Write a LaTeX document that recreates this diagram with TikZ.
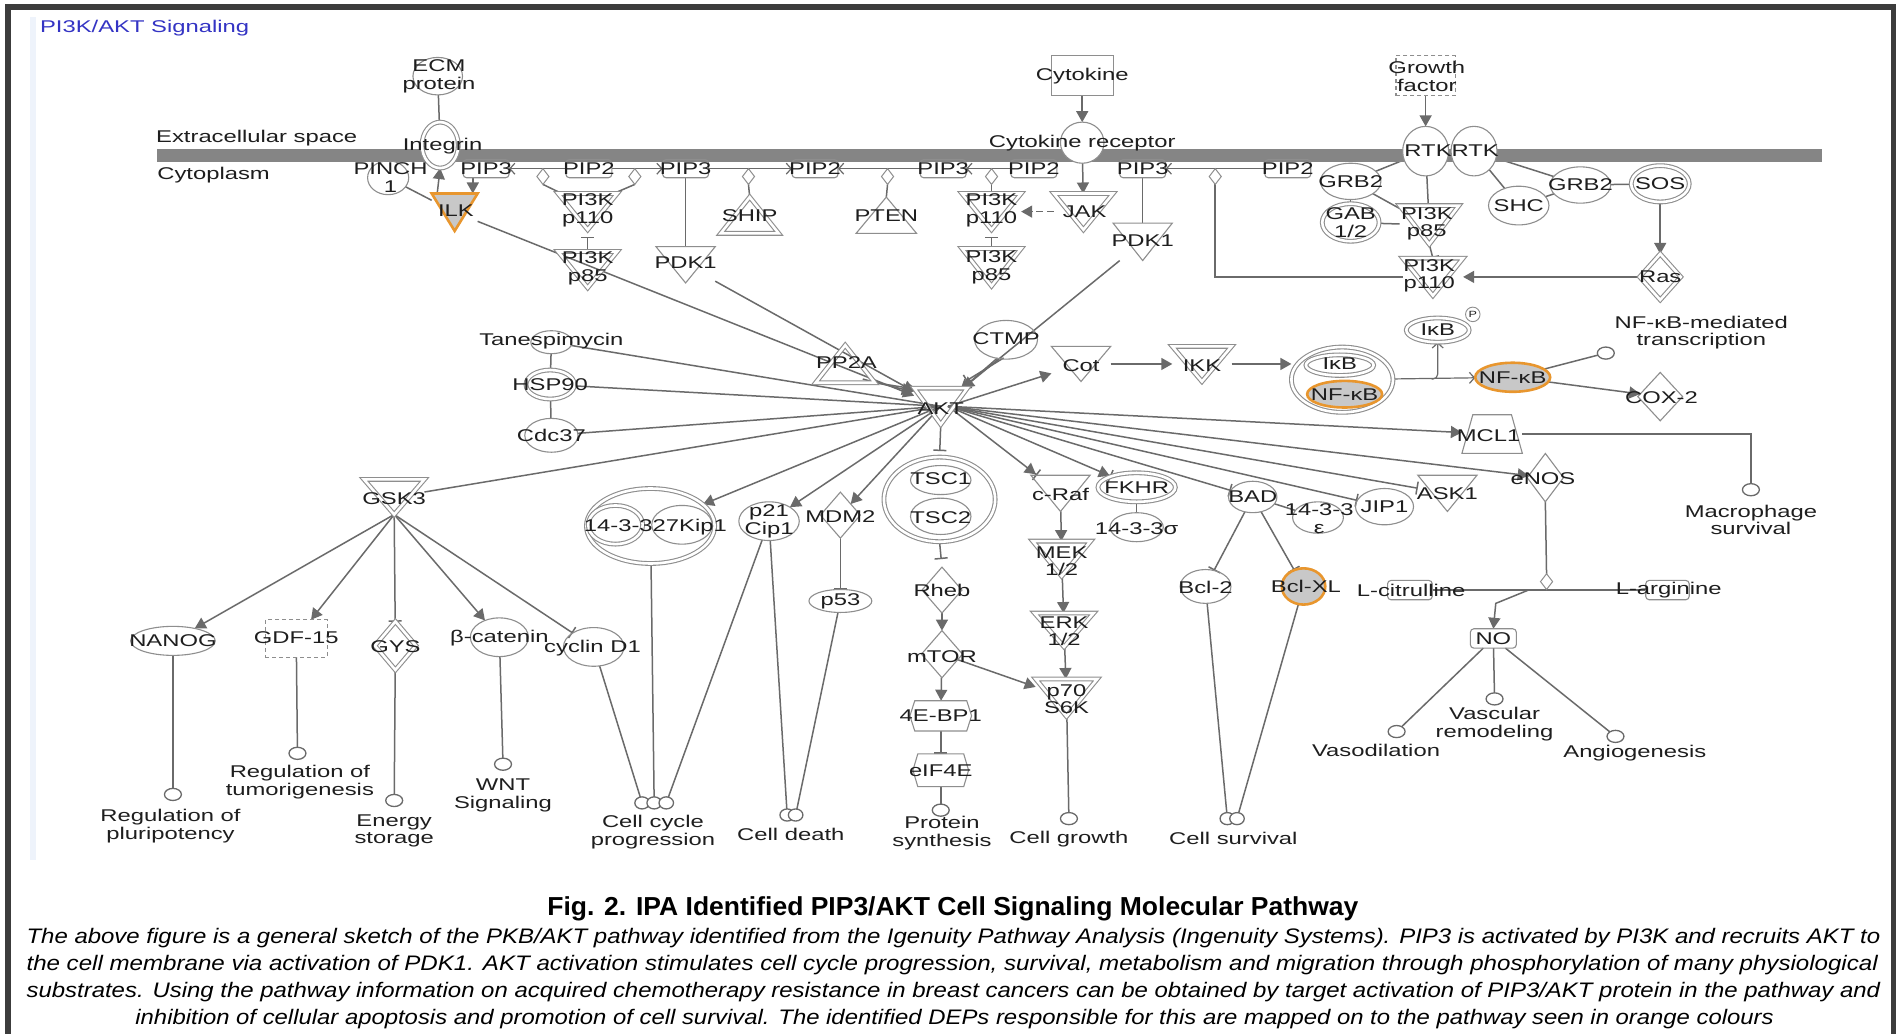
\documentclass[tikz,border=0pt]{standalone}
\usepackage{fontspec}
\usepackage{graphicx}
\setmainfont{Liberation Sans}
\newfontfamily\lf[FakeStretch=1.4]{Liberation Sans}
\usetikzlibrary{arrows.meta,calc,shapes.geometric}
\definecolor{lc}{HTML}{6A6A6A}
\definecolor{nc}{HTML}{8E8E8E}
\definecolor{txt}{HTML}{1E1E1E}
\definecolor{org}{HTML}{E8962E}
\definecolor{hfill}{HTML}{C8C8C8}
\definecolor{frm}{HTML}{3C3C3C}
\definecolor{barc}{HTML}{858585}
\definecolor{ttl}{HTML}{3434C4}
\definecolor{pane}{HTML}{EEF3FB}
\pgfdeclarelayer{base}
\pgfdeclarelayer{bg}
\pgfsetlayers{base,bg,main}
\newcommand\lfont{\lf\fontsize{17}{17.5}\selectfont}
\tikzset{
  lbl/.style={font=\lfont, align=center, inner sep=0pt, text=txt},
  sz/.style 2 args={minimum width=#1*1.2092pt, minimum height=#2*1.2092pt},
  shp/.style={draw=nc, line width=1.1pt, inner sep=0pt, outer sep=0pt, line join=miter},
  ell/.style={shp, ellipse},
  box/.style={shp, rectangle},
  rbox/.style={shp, rectangle, rounded corners=3.5pt},
  dbox/.style={shp, rectangle, dash pattern=on 4pt off 3pt},
  dia/.style={shp, diamond},
  hid/.style={rectangle, inner sep=0pt, outer sep=0pt},
  dbl/.style={double=white, double distance=2.6pt},
  wf/.style={fill=white},
  hl/.style={draw=org, line width=2.6pt, fill=hfill},
  fn/.style={shp, ellipse, sz={14}{10}, line width=1.3pt, draw=lc, fill=white},
  ln/.style={draw=lc, line width=1.5pt},
  act/.style={ln, -{Triangle[length=11pt,width=12pt]}},
  inh/.style={ln, -{Bar[width=13pt,line width=1.5pt]}},
  actinh/.style={ln, -{Triangle[length=11pt,width=12pt] Bar[width=13pt,line width=1.5pt]}},
  opn/.style={ln, line width=1.2pt, -{Straight Barb[length=5pt,width=11pt]}},
}
\newcommand\trid[4][]{\node[hid,sz=#4] (#2) at (#3) {};\path[shp,#1] (#2.north west) -- (#2.north east) -- (#2.south) -- cycle;}
\newcommand\triu[4][]{\node[hid,sz=#4] (#2) at (#3) {};\path[shp,#1] (#2.south west) -- (#2.south east) -- (#2.north) -- cycle;}
\newcommand\hexa[3]{\node[hid,sz=#3] (#1) at (#2) {};\path[shp] ($(#1.north west)+(4,0)$) -- ($(#1.north east)+(-4,0)$) -- (#1.east) -- ($(#1.south east)+(-4,0)$) -- ($(#1.south west)+(4,0)$) -- (#1.west) -- cycle;}
\begin{document}
\begin{tikzpicture}[x=1.2092pt, y=-1.2092pt]
\useasboundingbox (0,0) rectangle (1568,855);
\begin{pgfonlayer}{base}
\fill[white] (0,0) rectangle (1568,855);
\end{pgfonlayer}
% frame
\fill[frm] (4.5,3) rectangle (1568,8);
\fill[frm] (4.5,3) rectangle (9.5,855);
\fill[frm] (1563.5,3) rectangle (1568,855);
\fill[pane] (25,14) rectangle (30,711);
% title
\node[anchor=base west, inner sep=0pt, font=\lf\fontsize{17}{18}\selectfont, text=ttl] (title) at (33,26.5) {PI3K/AKT Signaling};
% membrane
\fill[barc] (130,123) rectangle (1507,134);
\node[lbl, anchor=base west] (ecs) at (129,118) {Extracellular space};
\node[lbl, anchor=base west] (cyto) at (130,148.5) {Cytoplasm};

% ---------- shapes ----------
\node[ell, sz={41}{31}] (ecm) at (362,63) {};
\node[ell, dbl, wf, sz={30}{38}] (integ) at (364,120) {};
\node[ell, sz={34}{28}] (pinch) at (321,147) {};
\trid[hl]{ilk}{376,175.5}{{38}{31}}
\node[rbox, sz={38}{15}] (pip3a) at (402,139.5) {};
\node[rbox, sz={38}{15}] (pip2a) at (487,139.5) {};
\node[rbox, sz={38}{15}] (pip3b) at (567,139.5) {};
\node[rbox, sz={38}{15}] (pip2b) at (674,139.5) {};
\node[rbox, sz={38}{15}] (pip3c) at (780,139.5) {};
\node[rbox, sz={38}{15}] (pip2c) at (855,139.5) {};
\node[rbox, sz={38}{15}] (pip3d) at (945,139.5) {};
\node[rbox, sz={38}{15}] (pip2d) at (1065,139.5) {};
\node[dia, wf, sz={10}{13}, line width=1pt] (cd1) at (449,146) {};
\node[dia, wf, sz={10}{13}, line width=1pt] (cd2) at (525,146) {};
\node[dia, wf, sz={10}{13}, line width=1pt] (cd3) at (619,146) {};
\node[dia, wf, sz={10}{13}, line width=1pt] (cd4) at (734,146) {};
\node[dia, wf, sz={10}{13}, line width=1pt] (cd5) at (820,146) {};
\node[dia, wf, sz={10}{13}, line width=1pt] (cd6) at (1005,146) {};
\trid[dbl]{p110a}{486,175}{{49}{30}}
\trid[dbl]{p85a}{486,223}{{49}{30}}
\triu[dbl]{ship}{620,178}{{48}{30}}
\triu{pten}{733,178}{{50}{30}}
\trid[dbl]{p110b}{820,175}{{49}{30}}
\trid[dbl]{jak}{896,175}{{49}{30}}
\trid[dbl]{p85b}{820,221}{{49}{31}}
\trid{pdk1a}{567,219}{{49}{30}}
\trid{pdk1b}{945,200}{{49}{31}}
\node[box, sz={51}{33}] (cytk) at (895,62.5) {};
\node[ell, wf, sz={36}{34}] (cytr) at (895,118) {};
\node[dbox, sz={49}{33}] (gf) at (1179,62.5) {};
\node[ell, wf, sz={38}{41}] (rtk1) at (1179,125) {};
\node[ell, wf, sz={38}{41}] (rtk2) at (1219,125) {};
\node[ell, sz={50}{30}] (grb2a) at (1117,150) {};
\node[ell, dbl, sz={47}{31}] (gab) at (1117,184) {};
\trid[dbl]{p85c}{1182,186}{{49}{32}}
\trid[dbl]{p110c}{1185,229}{{50}{31}}
\node[ell, sz={50}{32}] (shc) at (1256,170) {};
\node[ell, sz={50}{30}] (grb2b) at (1307,153) {};
\node[ell, dbl, sz={48}{30}] (sos) at (1373,152) {};
\node[dia, dbl, sz={34}{38}] (ras) at (1373,229) {};

\node[ell, sz={34}{19}] (tane) at (456,283) {};
\node[ell, dbl, sz={40}{24}] (hsp) at (455,318) {};
\node[ell, sz={44}{28}] (cdc) at (456,360) {};
\triu[dbl]{pp2a}{699,301}{{49}{31}}
\node[ell, sz={52}{32}] (ctmp) at (832,281) {};
\trid[dbl]{akt}{778,336}{{44}{30}}
\trid{cot}{894,301}{{49}{29}}
\trid[dbl]{ikk}{994,301}{{49}{29}}
\node[ell, dbl, sz={84}{54}] (cplx) at (1110,314) {};
\node[ell, dbl, sz={56}{17}] (ikb) at (1108,302) {};
\node[ell, hl, sz={62}{22}] (nfkba) at (1112,326) {};
\node[ell, dbl, sz={52}{20}] (ikbp) at (1189,273) {};
\node[ell, sz={12}{12}, line width=0.9pt] (pc) at (1218,260) {};
\node[ell, hl, sz={62}{24}] (nfkbb) at (1251,312) {};
\node[fn] (ftr) at (1328,292) {};
\node[dia, sz={37}{40}] (cox) at (1373,328) {};
\node[hid, sz={50}{32}] (mcl) at (1234,359) {};
\path[shp] (mcl.south west) -- (mcl.south east) -- ($(mcl.north east)+(-9,0)$) -- ($(mcl.north west)+(9,0)$) -- cycle;
\node[fn] (fmac) at (1448,405) {};
\node[dia, sz={30}{40}] (enos) at (1278,395) {};
\trid{ask}{1197,408}{{49}{30}}
\node[ell, sz={48}{30}] (jip) at (1145,419) {};
\node[ell, sz={42}{26}] (eps) at (1090,428) {};
\node[ell, sz={40}{26}] (bad) at (1036,411) {};
\node[ell, sz={42}{28}] (bcltwo) at (997,485) {};
\node[ell, hl, sz={36}{30}] (bclxl) at (1078,485) {};
\node[ell, dbl, sz={64}{24}] (fkhr) at (940,403) {};
\node[ell, sz={44}{24}] (sig) at (940,436) {};
\trid{craf}{877,408}{{49}{30}}
\trid[dbl]{mek}{878,462}{{48}{29}}
\trid[dbl]{erk}{880,521}{{49}{28}}
\trid[dbl]{pse}{882,577}{{51}{31}}
\node[ell, dbl, sz={92}{70}] (tsc) at (777,413) {};
\node[ell, sz={50}{24}] (tscone) at (778,397) {};
\node[ell, sz={50}{30}] (tsctwo) at (778,427) {};
\node[dia, sz={33}{38}] (rheb) at (779,488) {};
\node[dia, sz={34}{39}] (mtor) at (779,541) {};
\hexa{bpone}{778,592}{{51}{25}}
\hexa{eif}{778,637}{{46}{27}}
\node[fn] (fprot) at (778,670) {};
\node[fn] (fgrow) at (884,677) {};
\node[ell, dbl, sz={106}{62}] (ckip) at (538,435) {};
\node[ell, dbl, sz={45}{32}] (cfour) at (509,434) {};
\node[ell, sz={50}{32}] (ckp) at (564,434) {};
\node[ell, sz={50}{32}] (ptw) at (636,431) {};
\node[dia, sz={33}{38}] (mdm) at (695,426) {};
\node[ell, sz={52}{19}] (pft) at (695,497) {};
\trid[dbl]{gsk}{326,411}{{50}{29}}
\node[ell, sz={70}{24}] (nanog) at (143,530) {};
\node[dbox, sz={51}{31}] (gdf) at (245,528) {};
\node[dia, dbl, sz={34}{40}] (gys) at (327,534) {};
\node[ell, sz={48}{32}] (bcat) at (413,527) {};
\node[ell, sz={50}{32}] (cycd) at (491,535) {};
\node[fn] (fplu) at (143,657) {};
\node[fn] (ftum) at (246,623) {};
\node[fn] (fen) at (326,662) {};
\node[fn] (fwnt) at (416,632) {};
\node[fn, sz={12}{10}] (fcca) at (531,664) {};
\node[fn, sz={12}{10}] (fccb) at (541,664) {};
\node[fn, sz={12}{10}] (fccc) at (551,664) {};
\node[fn, sz={12}{10}] (fcda) at (651,674) {};
\node[fn, sz={12}{10}] (fcdb) at (658,674) {};
\node[fn, sz={12}{10}] (fcsa) at (1015,677) {};
\node[fn, sz={12}{10}] (fcsb) at (1023,677) {};
\node[rbox, sz={37}{16}] (lcit) at (1166,488) {};
\node[rbox, sz={36}{16}] (larg) at (1379,488) {};
\node[dia, wf, sz={10}{13}, line width=1pt] (cdn) at (1279,481) {};
\node[rbox, sz={38}{16}] (no) at (1235,528) {};
\node[fn] (fvaso) at (1155,605) {};
\node[fn] (fvasc) at (1236,578) {};
\node[fn] (fang) at (1336,609) {};
\coordinate (brk) at (1184,313.5);
\coordinate (noa) at (1264,488);
\coordinate (nob) at (1237,499);
\coordinate (ak) at (784,336);

% ---------- connectors ----------
\begin{pgfonlayer}{bg}
\draw[ln] (ecm) -- (integ);
\draw[ln] (pinch) -- (ilk);
\draw[act] ($(ilk.north west)!0.12!(ilk.north east)$) -- (integ.south);
\draw[act] ($(pip3a.south)+(-11,0)$) -- ($(ilk.north)+(15,0)$);
\draw[act] (ilk) -- (akt);
\draw[opn] (pip2a) -- (pip3a);
\draw[opn] (pip2a) -- (pip3b);
\draw[opn] (pip3b) -- (pip2b);
\draw[opn] (pip3c) -- (pip2b);
\draw[opn] (pip2c) -- (pip3c);
\draw[opn] (pip2d) -- (pip3d);
\draw[ln] (cd1.south) -- ($(p110a.north west)+(3,0)$);
\draw[ln] (cd2.south) -- ($(p110a.north east)+(-3,0)$);
\draw[ln] (cd3.south) -- (ship.north);
\draw[ln] (cd4.south) -- (pten.north);
\draw[ln] (cd5.south) -- (p110b.north);
\draw[ln] (cd6.south) |- (p110c.west);
\draw[inh, shorten >=7pt] (p85a.north) -- (p110a.south);
\draw[inh, shorten >=7pt] (p85b.north) -- (p110b.south);
\draw[inh] (p85c.south) -- (p110c.north);
\draw[ln] (pip3b.south) -- (pdk1a.north);
\draw[ln] (pip3d.south) -- (pdk1b.north);
\draw[act] (pdk1a) -- (akt);
\draw[act] (pdk1b) -- (akt);
\draw[act] ($(ctmp.south)+(-7,-1)$) -- ($(akt.north east)+(-6,2)$);
\draw[inh] ($(ctmp.south)+(-2,-1)$) -- ($(akt.north east)+(-1,-6)$);
\draw[act] (cytk) -- (cytr);
\draw[act] (cytr) -- (jak);
\draw[act, dash pattern=on 7pt off 4pt] (jak) -- (p110b);
\draw[act] (gf) -- (rtk1);
\draw[ln] (rtk1) -- (grb2a);
\draw[ln] (rtk1) -- (p85c);
\draw[ln] (grb2a) -- (gab);
\draw[ln] (grb2a) -- (p85c);
\draw[ln] (gab) -- (p85c);
\draw[ln] (rtk2) -- (shc);
\draw[ln] (rtk2) -- (grb2b);
\draw[ln] (shc) -- (grb2b);
\draw[ln] (grb2b) -- (sos);
\draw[act] (sos) -- (ras);
\draw[act] (ras) -- (p110c);
\draw[ln] (tane) -- (hsp);
\draw[ln] (hsp) -- (cdc);
\draw[ln] (tane) -- (akt.center);
\draw[ln] (hsp) -- (akt.center);
\draw[ln] (cdc) -- (akt.center);
\draw[act] ($(pp2a.south east)+(-10,-3)$) -- ($(akt.north west)+(-1,3)$);
\draw[act] ($(pp2a.south east)+(-6,-1)$) -- ($(akt.north west)+(2,1)$);
\draw[act] (ak) -- (cot);
\draw[act] (cot) -- (ikk);
\draw[act] (ikk) -- (ikk -| cplx.west);
\draw[opn] (cplx) -- (nfkbb);
\draw[opn, rounded corners=5pt] (brk) -| (ikbp.south);
\draw[ln] (nfkbb) -- (ftr);
\draw[act] (nfkbb) -- (cox);
\draw[act] (ak) -- (mcl);
\draw[ln] (mcl.east) -| (fmac.north);
\draw[act] (ak) -- (enos);
\draw[ln] (enos.south) -- (cdn.north);
\draw[ln] (larg.west) -- (lcit.east);
\draw[act] (noa) -- (nob) -- (no.north);
\draw[ln] (no) -- (fvaso);
\draw[ln] (no) -- (fvasc);
\draw[ln] (no) -- (fang);
\draw[inh] (ak) -- (ask);
\draw[inh] (ak) -- (jip);
\draw[inh] (ak) -- (bad);
\draw[ln] (bad) -- (eps);
\draw[inh] (bad) -- (bcltwo);
\draw[inh] (bad) -- (bclxl);
\draw[actinh] (ak) -- (craf);
\draw[actinh] (ak) -- (fkhr);
\draw[ln] (fkhr) -- (sig);
\draw[act] (craf) -- (mek);
\draw[act] (mek) -- (erk);
\draw[act] (erk) -- (pse);
\draw[act] (mtor) -- (pse);
\draw[inh, shorten >=6pt] (akt.south) -- (tsc.north);
\draw[inh, shorten >=8pt] (tsc.south) -- (rheb.north);
\draw[act] (rheb) -- (mtor);
\draw[act] (mtor) -- (bpone);
\draw[inh] (bpone) -- (eif);
\draw[ln] (eif) -- (fprot);
\draw[ln] (pse) -- (fgrow);
\draw[act] (akt.center) -- (ckip);
\draw[act] (akt.center) -- (ptw);
\draw[act] (akt.center) -- (mdm);
\draw[inh] (mdm) -- (pft);
\draw[ln] (ckip) -- (fccb);
\draw[ln] (cycd) -- (fcca);
\draw[ln] (ptw) -- (fccc);
\draw[ln] (ptw) -- (fcda);
\draw[ln] (pft) -- (fcdb);
\draw[ln] (bcltwo) -- (fcsa);
\draw[ln] (bclxl) -- (fcsb);
\draw[ln] (akt.center) -- (gsk);
\draw[act] (gsk.south) -- (nanog);
\draw[act] (gsk.south) -- (gdf);
\draw[inh] (gsk.south) -- (gys);
\draw[act] (gsk.south) -- (bcat);
\draw[inh] (gsk.south) -- (cycd);
\draw[ln] (nanog) -- (fplu);
\draw[ln] (gdf) -- (ftum);
\draw[ln] (gys) -- (fen);
\draw[ln] (bcat) -- (fwnt);
\end{pgfonlayer}

% ---------- labels ----------
\node[lbl] (tecm) at (363,63) {ECM\\protein};
\node[lbl] (tinteg) at (366,121) {Integrin};
\node[lbl] (tpinch) at (323,147) {PINCH\\1};
\node[lbl] (tilk) at (377,174) {ILK};
\node[lbl] (tpa) at (402,139.5) {PIP3};
\node[lbl] (tpb) at (487,139.5) {PIP2};
\node[lbl] (tpc) at (567,139.5) {PIP3};
\node[lbl] (tpd) at (674,139.5) {PIP2};
\node[lbl] (tpe) at (780,139.5) {PIP3};
\node[lbl] (tpf) at (855,139.5) {PIP2};
\node[lbl] (tpg) at (945,139.5) {PIP3};
\node[lbl] (tph) at (1065,139.5) {PIP2};
\node[lbl] (tp110a) at (486,174) {PI3K\\p110};
\node[lbl] (tp85a) at (486,222) {PI3K\\p85};
\node[lbl] (tship) at (620,178) {SHIP};
\node[lbl] (tpten) at (733,178) {PTEN};
\node[lbl] (tp110b) at (820,174) {PI3K\\p110};
\node[lbl] (tjak) at (897,175) {JAK};
\node[lbl] (tp85b) at (820,221) {PI3K\\p85};
\node[lbl] (tpdka) at (567,217) {PDK1};
\node[lbl] (tpdkb) at (945,199) {PDK1};
\node[lbl] (tcytk) at (895,63) {Cytokine};
\node[lbl] (tcytr) at (895,118) {Cytokine receptor};
\node[lbl] (tgf) at (1180,63) {Growth\\factor};
\node[lbl] (trtka) at (1181,125) {RTK};
\node[lbl] (trtkb) at (1220,125) {RTK};
\node[lbl] (tgrba) at (1117,150) {GRB2};
\node[lbl] (tgab) at (1117,184) {GAB\\1/2};
\node[lbl] (tp85c) at (1180,185) {PI3K\\p85};
\node[lbl] (tp110c) at (1182,228) {PI3K\\p110};
\node[lbl] (tshc) at (1256,170) {SHC};
\node[lbl] (tgrbb) at (1307,153) {GRB2};
\node[lbl] (tsos) at (1373,152) {SOS};
\node[lbl] (tras) at (1373,229) {Ras};
\node[lbl] (ttane) at (456,282) {Tanespimycin};
\node[lbl] (thsp) at (455,318) {HSP90};
\node[lbl] (tcdc) at (456,360) {Cdc37};
\node[lbl] (tpp2a) at (700,300) {PP2A};
\node[lbl] (tctmp) at (832,280) {CTMP};
\node[lbl] (takt) at (778,338) {AKT};
\node[lbl] (tcot) at (894,302) {Cot};
\node[lbl] (tikk) at (994,302) {IKK};
\node[lbl] (tikb) at (1108,301) {IκB};
\node[lbl] (tnfa) at (1112,326) {NF-κB};
\node[lbl] (tikbp) at (1189,273) {IκB};
\node[inner sep=0pt, font=\lf\fontsize{9}{9}\selectfont, text=txt] (tpp) at (1218,260) {P};
\node[lbl] (tnfb) at (1251,312) {NF-κB};
\node[lbl] (ttr) at (1407,275) {NF-κB-mediated\\transcription};
\node[lbl] (tcox) at (1374,329) {COX-2};
\node[lbl] (tmcl) at (1231,360) {MCL1};
\node[lbl] (tmac) at (1448,430) {Macrophage\\survival};
\node[lbl] (tenos) at (1276,396) {eNOS};
\node[lbl] (task) at (1197,408) {ASK1};
\node[lbl] (tjip) at (1145,419) {JIP1};
\node[lbl] (teps) at (1091,429) {14-3-3\\ε};
\node[lbl] (tbad) at (1036,411) {BAD};
\node[lbl] (tbcl) at (997,486) {Bcl-2};
\node[lbl] (tbclxl) at (1080,485) {Bcl-XL};
\node[lbl] (tfkhr) at (940,403) {FKHR};
\node[lbl] (tsig) at (940,437) {14-3-3σ};
\node[lbl] (tcraf) at (877,409) {c-Raf};
\node[lbl] (tmek) at (878,464) {MEK\\1/2};
\node[lbl] (terk) at (880,522) {ERK\\1/2};
\node[lbl] (tpse) at (882,578) {p70\\S6K};
\node[lbl] (ttscone) at (778,396) {TSC1};
\node[lbl] (ttsctwo) at (778,428) {TSC2};
\node[lbl] (trheb) at (779,488) {Rheb};
\node[lbl] (tmtor) at (779,543) {mTOR};
\node[lbl] (tbp) at (778,592) {4E-BP1};
\node[lbl] (teif) at (778,637) {eIF4E};
\node[lbl] (tprot) at (779,689) {Protein\\synthesis};
\node[lbl] (tgrow) at (884,694) {Cell growth};
\node[lbl] (tckip) at (542,436) {14-3-327Kip1};
\node[lbl] (tptw) at (636,431) {p21\\Cip1};
\node[lbl] (tmdm) at (695,427) {MDM2};
\node[lbl] (tpft) at (695,497) {p53};
\node[lbl] (tgsk) at (326,412) {GSK3};
\node[lbl] (tnanog) at (143,530) {NANOG};
\node[lbl] (tgdf) at (245,527) {GDF-15};
\node[lbl] (tgys) at (327,535) {GYS};
\node[lbl] (tbcat) at (413,528) {β-catenin};
\node[lbl] (tcycd) at (490,536) {cyclin D1};
\node[lbl] (tplu) at (141,683) {Regulation of\\pluripotency};
\node[lbl] (ttum) at (248,647) {Regulation of\\tumorigenesis};
\node[lbl] (ten) at (326,687) {Energy\\storage};
\node[lbl] (twnt) at (416,658) {WNT\\Signaling};
\node[lbl] (tcc) at (540,688) {Cell cycle\\progression};
\node[lbl] (tcd) at (654,690) {Cell death};
\node[lbl] (tcs) at (1020,693) {Cell survival};
\node[lbl] (tlcit) at (1167,488) {L-citrulline};
\node[lbl] (tlarg) at (1380,488) {L-arginine};
\node[lbl] (tno) at (1235,528) {NO};
\node[lbl] (tvaso) at (1138,621) {Vasodilation};
\node[lbl] (tvasc) at (1236,599) {Vascular\\remodeling};
\node[lbl] (tang) at (1352,623) {Angiogenesis};

% ---------- caption ----------
\node[anchor=base, inner sep=0pt, font=\bfseries\fontsize{26}{28}\selectfont] (cap) at (788,757) {\resizebox{811pt}{\height}{Fig. 2. IPA Identified PIP3/AKT Cell Signaling Molecular Pathway}};
\node[anchor=base, inner sep=0pt, font=\itshape\fontsize{21}{22}\selectfont] (ca) at (788.5,780) {\resizebox{1853.7pt}{\height}{The above figure is a general sketch of the PKB/AKT pathway identified from the Igenuity Pathway Analysis (Ingenuity Systems). PIP3 is activated by PI3K and recruits AKT to}};
\node[anchor=base, inner sep=0pt, font=\itshape\fontsize{21}{22}\selectfont] (cb) at (787.5,802.5) {\resizebox{1851.3pt}{\height}{the cell membrane via activation of PDK1. AKT activation stimulates cell cycle progression, survival, metabolism and migration through phosphorylation of many physiological}};
\node[anchor=base, inner sep=0pt, font=\itshape\fontsize{21}{22}\selectfont] (cc) at (788.5,825) {\resizebox{1853.7pt}{\height}{substrates. Using the pathway information on acquired chemotherapy resistance in breast cancers can be obtained by target activation of PIP3/AKT protein in the pathway and}};
\node[anchor=base, inner sep=0pt, font=\itshape\fontsize{21}{22}\selectfont] (cd) at (789.5,847.5) {\resizebox{1638.5pt}{\height}{inhibition of cellular apoptosis and promotion of cell survival. The identified DEPs responsible for this are mapped on to the pathway seen in orange colours}};
\end{tikzpicture}
\end{document}
